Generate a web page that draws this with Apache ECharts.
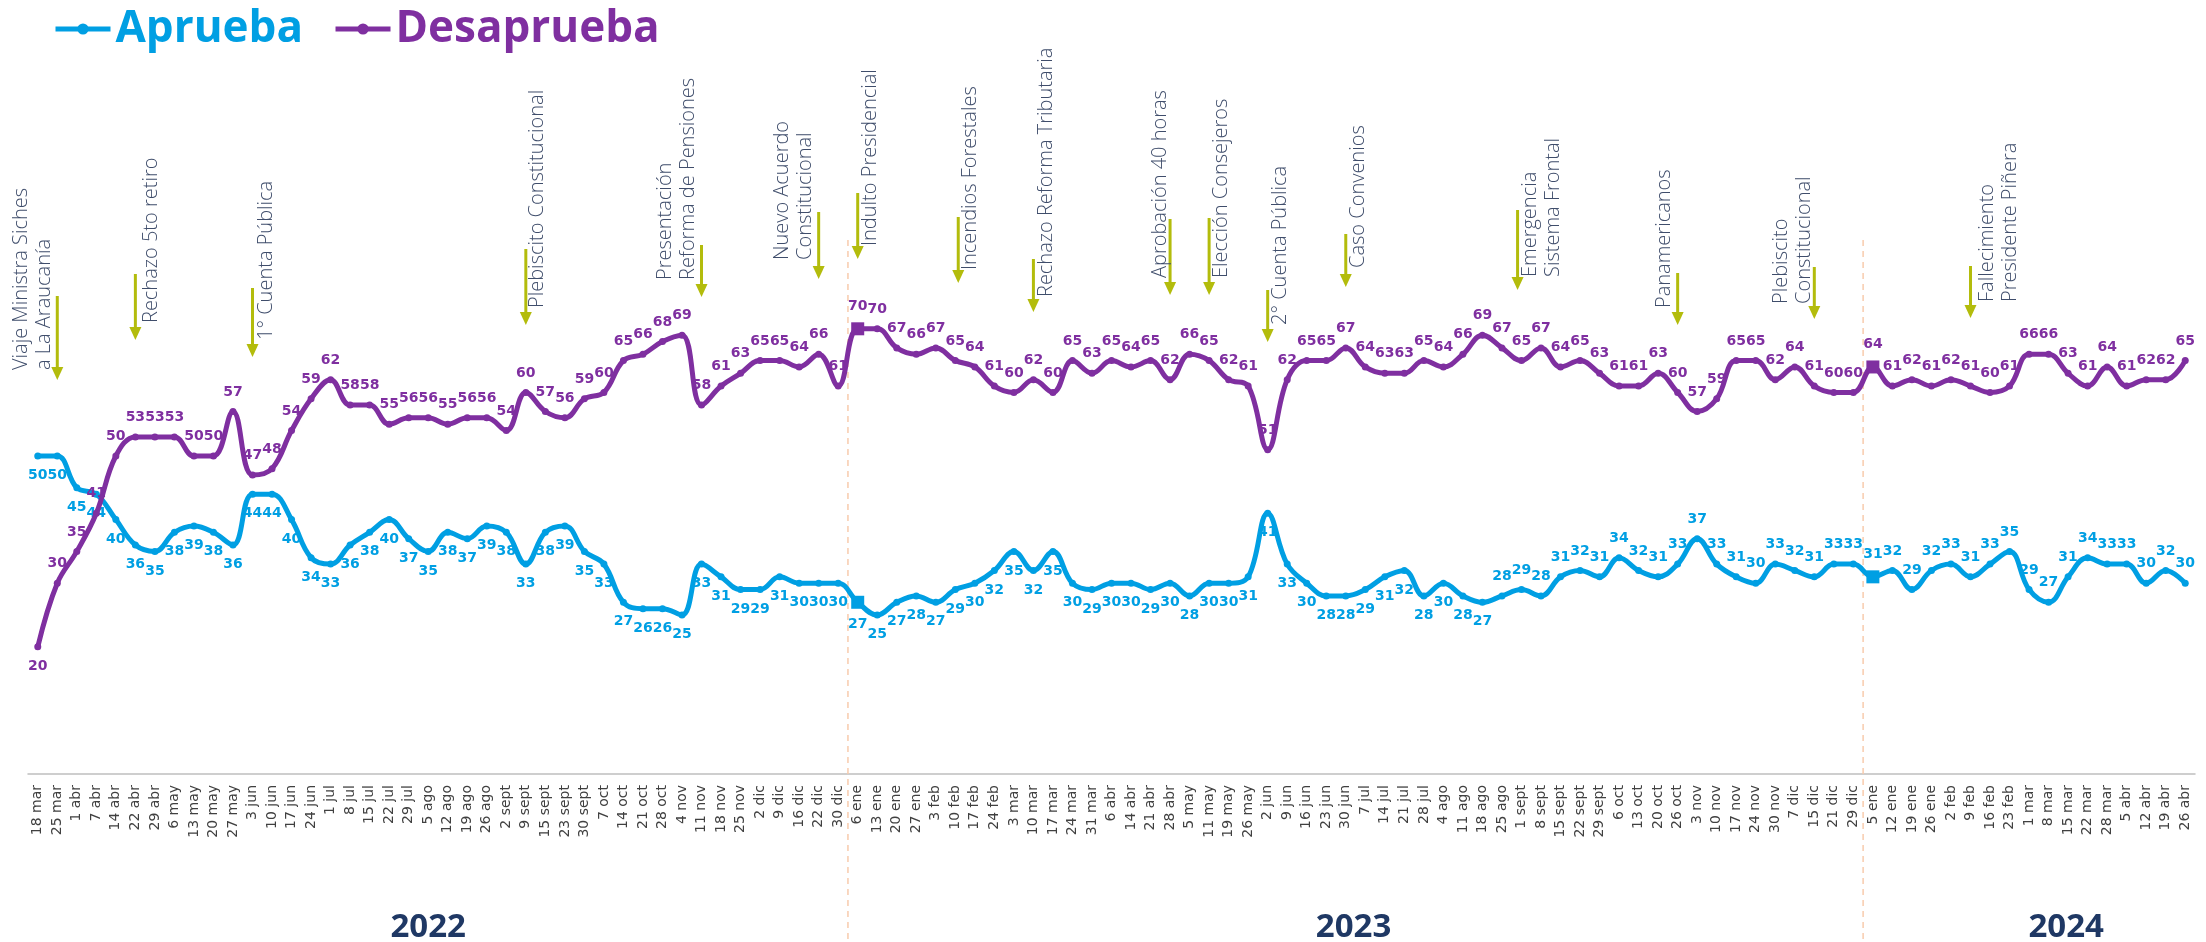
<!DOCTYPE html>
<html><head><meta charset="utf-8">
<script src="https://cdn.jsdelivr.net/npm/echarts@6/dist/echarts.min.js"></script>
<style>html,body{margin:0;padding:0;background:#fff}#c{width:2206px;height:942px}</style>
</head><body><div id="c"></div>
<script>
const categories = ['18 mar','25 mar','1 abr','7 abr','14 abr','22 abr','29 abr','6 may','13 may','20 may','27 may','3 jun','10 jun','17 jun','24 jun','1 jul','8 jul','15 jul','22 jul','29 jul','5 ago','12 ago','19 ago','26 ago','2 sept','9 sept','15 sept','23 sept','30 sept','7 oct','14 oct','21 oct','28 oct','4 nov','11 nov','18 nov','25 nov','2 dic','9 dic','16 dic','22 dic','30 dic',
'6 ene','13 ene','20 ene','27 ene','3 feb','10 feb','17 feb','24 feb','3 mar','10 mar','17 mar','24 mar','31 mar','6 abr','14 abr','21 abr','28 abr','5 may','11 may','19 may','26 may','2 jun','9 jun','16 jun','23 jun','30 jun','7 jul','14 jul','21 jul','28 jul','4 ago','11 ago','18 ago','25 ago','1 sept','8 sept','15 sept','22 sept','29 sept','6 oct','13 oct','20 oct','26 oct','3 nov','10 nov','17 nov','24 nov','30 nov','7 dic','15 dic','21 dic','29 dic',
'5 ene','12 ene','19 ene','26 ene','2 feb','9 feb','16 feb','23 feb','1 mar','8 mar','15 mar','22 mar','28 mar','5 abr','12 abr','19 abr','26 abr'];

const aprueba = [50,50,45,44,40,36,35,38,39,38,36,44,44,40,34,33,36,38,40,37,35,38,37,39,38,33,38,39,35,33,27,26,26,25,33,31,29,29,31,30,30,30,
27,25,27,28,27,29,30,32,35,32,35,30,29,30,30,29,30,28,30,30,31,41,33,30,28,28,29,31,32,28,30,28,27,28,29,28,31,32,31,34,32,31,33,37,33,31,30,33,32,31,33,33,
31,32,29,32,33,31,33,35,29,27,31,34,33,33,30,32,30];

const desaprueba = [20,30,35,41,50,53,53,53,50,50,57,47,48,54,59,62,58,58,55,56,56,55,56,56,54,60,57,56,59,60,65,66,68,69,58,61,63,65,65,64,66,61,
70,70,67,66,67,65,64,61,60,62,60,65,63,65,64,65,62,66,65,62,61,51,62,65,65,67,64,63,63,65,64,66,69,67,65,67,64,65,63,61,61,63,60,57,59,65,65,62,64,61,60,60,
64,61,62,61,62,61,60,61,66,66,63,61,64,61,62,62,65];

const years = ['2022','2023','2024'];
const yearStartIndex = [42, 94];

const events = [
  {i:1, text:'Viaje Ministra Siches\na La Araucanía', dx:-36, textBottom:370, top:296, bottom:380},
  {i:5, text:'Rechazo 5to retiro', dx:15.7, textBottom:323, top:274, bottom:340},
  {i:11, text:'1° Cuenta Pública', dx:14, textBottom:340, top:288, bottom:357},
  {i:25, text:'Plebiscito Constitucional', dx:11, textBottom:308, top:249, bottom:325},
  {i:34, text:'Presentación\nReforma de Pensiones', dx:-36, textBottom:280, top:245, bottom:297},
  {i:40, text:'Nuevo Acuerdo\nConstitucional', dx:-36.5, textBottom:260, top:212, bottom:279},
  {i:42, text:'Indulto Presidencial', dx:12.5, textBottom:246, top:193, bottom:259},
  {i:47.15, text:'Incendios Forestales', dx:12, textBottom:270, top:217, bottom:283},
  {i:51, text:'Rechazo Reforma Tributaria', dx:12.4, textBottom:297, top:259, bottom:312},
  {i:58, text:'Aprobación 40 horas', dx:-10, textBottom:278, top:219, bottom:295},
  {i:60, text:'Elección Consejeros', dx:12, textBottom:278, top:218, bottom:295},
  {i:63, text:'2° Cuenta Pública', dx:12.5, textBottom:325, top:290, bottom:342},
  {i:67, text:'Caso Convenios', dx:12.5, textBottom:268, top:234, bottom:287},
  {i:75.8, text:'Emergencia\nSistema Frontal', dx:12.7, textBottom:277, top:210, bottom:290},
  {i:84, text:'Panamericanos', dx:-13.4, textBottom:308, top:273, bottom:325},
  {i:91, text:'Plebiscito\nConstitucional', dx:-33.5, textBottom:304, top:267, bottom:319},
  {i:99, text:'Fallecimiento\nPresidente Piñera', dx:17, textBottom:302, top:266, bottom:318}
];
const yearLabelAt = [20, 67.4, 103.9];

const C_A = '#009FE3', C_D = '#7F2FA0', C_ARROW = '#B3BC0C', C_NOTE = '#3F4D6B', C_YEAR = '#1F3864';
const FONT = "'Open Sans', 'DejaVu Sans', sans-serif";
const NUMFONT = "'DejaVu Sans', sans-serif";

function pts(arr, isA) {
  return arr.map((v, i) => {
    const o = {value: v};
    if (yearStartIndex.includes(i)) { o.symbol = 'rect'; o.symbolSize = 13; }
    if (isA) o.label = {position: i >= 75 ? 'top' : 'bottom'};
    else if (i === 0) o.label = {position: 'bottom'};
    return o;
  });
}

const chart = echarts.init(document.getElementById('c'));
const lbl = (c, pos) => ({show:true, position:pos, distance:9, color:c, fontFamily:NUMFONT, fontWeight:'bold', fontSize:14});
chart.setOption({
  animation:false,
  grid:{left:28, right:11, top:138, bottom:168},
  legend:{left:48, top:2, itemWidth:55, itemHeight:14, itemGap:30,
    lineStyle:{width:5},
    textStyle:{fontFamily:FONT, fontSize:44, fontWeight:'bold'},
    data:[{name:'Aprueba', textStyle:{color:C_A}}, {name:'Desaprueba', textStyle:{color:C_D}}]},
  xAxis:{type:'category', data:categories, boundaryGap:true,
    axisLine:{lineStyle:{color:'#BFBFBF', width:1.5}},
    axisTick:{interval:0, length:5, lineStyle:{color:'#BFBFBF'}},
    axisLabel:{interval:0, rotate:90, fontSize:14, color:'#404040', fontFamily:NUMFONT, margin:11, padding:[0,0,20,0]}},
  yAxis:{type:'value', min:0, max:100, show:false},
  series:[
    {name:'Aprueba', type:'line', data:pts(aprueba, true), smooth:0.4, symbol:'circle', symbolSize:7,
      lineStyle:{width:5, color:C_A}, itemStyle:{color:C_A}, label:lbl(C_A, 'bottom'), z:3},
    {name:'Desaprueba', type:'line', data:pts(desaprueba, false), smooth:0.4, symbol:'circle', symbolSize:7,
      lineStyle:{width:5, color:C_D}, itemStyle:{color:C_D}, label:lbl(C_D, 'top'), z:4}
  ]
});

const x0 = chart.convertToPixel({xAxisIndex:0}, 0);
const x1 = chart.convertToPixel({xAxisIndex:0}, 1);
const X = i => x0 + (x1 - x0) * i;
const g = [];
yearStartIndex.forEach(k => {
  const x = X(k - 0.5);
  g.push({type:'line', z:1, silent:true, shape:{x1:x, y1:240, x2:x, y2:942}, style:{stroke:'#F8CBAD', lineWidth:1.5, lineDash:[6,5]}});
});
events.forEach(e => {
  const ax = X(e.i);
  g.push({type:'line', z:10, silent:true, shape:{x1:ax, y1:e.top, x2:ax, y2:e.bottom - 11}, style:{stroke:C_ARROW, lineWidth:3}});
  g.push({type:'polygon', z:10, silent:true, shape:{points:[[ax-6, e.bottom-13], [ax+6, e.bottom-13], [ax, e.bottom]]}, style:{fill:C_ARROW}});
  g.push({type:'text', z:10, silent:true, x: ax + e.dx - 11.5, y: e.textBottom, rotation: Math.PI/2,
    style:{text:e.text, fontSize:20, lineHeight:23, fontFamily:FONT, fontWeight:300, fill:C_NOTE, align:'left', verticalAlign:'top'}});
});
years.forEach((y, k) => {
  g.push({type:'text', z:10, silent:true, x: X(yearLabelAt[k]), y: 928,
    style:{text:y, fontSize:33, fontWeight:'bold', fontFamily:FONT, fill:C_YEAR, align:'center', verticalAlign:'middle'}});
});
chart.setOption({graphic:g});
</script>
</body></html>
